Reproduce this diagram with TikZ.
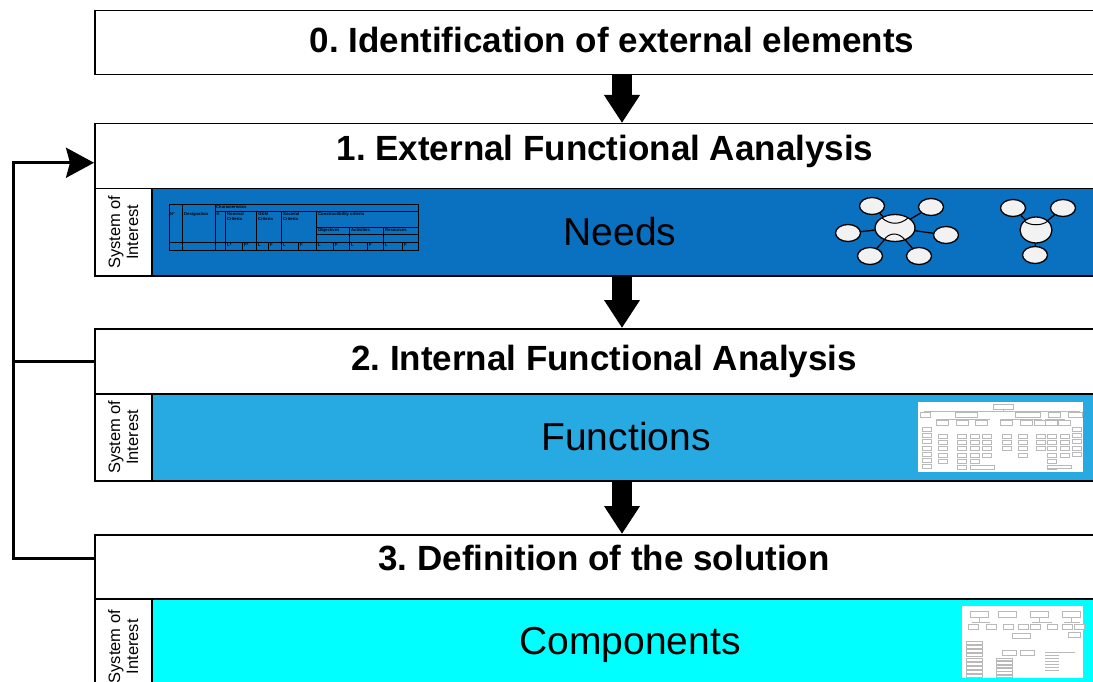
\documentclass[tikz,border=0pt]{standalone}
\usepackage{fontspec}
\setmainfont{Liberation Sans}
\frenchspacing
\usetikzlibrary{arrows.meta,shapes.geometric,calc}
\definecolor{needsblue}{HTML}{0A70C0}
\definecolor{funcblue}{HTML}{27A9E1}
\definecolor{compcyan}{HTML}{00FFFF}
\definecolor{bubfill}{HTML}{F2F2F2}
\begin{document}
\begin{tikzpicture}[x=1pt,y=-1pt,
 boxframe/.style={draw=black,line width=1.5pt,rectangle,inner sep=0pt,anchor=north west},
 title/.style={font=\fontsize{35}{42}\selectfont\bfseries,anchor=base,inner sep=0pt},
 content/.style={font=\fontsize{39}{46}\selectfont,anchor=base,inner sep=0pt},
 soitext/.style={font=\fontsize{16.5}{18}\selectfont,rotate=90,align=center,inner sep=0pt},
 bigarrow/.style={line width=20pt,-{Triangle[length=28pt,width=34pt]}},
 fb/.style={line width=3pt},
 bub/.style={ellipse,draw=black,line width=1.3pt,fill=bubfill,inner sep=0pt,minimum width=25pt,minimum height=17pt},
 hub/.style={bub,minimum width=40pt,minimum height=27pt},
 hubb/.style={bub,minimum width=32pt,minimum height=26pt},
 link/.style={line width=1.3pt},
 tbl/.style={line width=0.7pt},
 tt/.style={font=\fontsize{4.2}{4.8}\selectfont\bfseries,inner sep=0pt,anchor=north west,align=left},
 thumb/.style={draw=gray!55,line width=0.35pt,fill=white},
 thumbline/.style={draw=gray!55,line width=0.35pt},
 thumbbg/.style={fill=white,inner sep=0pt,anchor=north west},
 ]
\useasboundingbox (0,0) rectangle (1093,682);
\clip (0,0) rectangle (1093,682);

% ---------- boxes ----------
\node[boxframe,minimum width=1022pt,minimum height=64pt] (h0) at (94,10) {};

\node[boxframe,minimum width=1022pt,minimum height=65pt] (h1) at (94,123) {};
\node[boxframe,minimum width=57pt,minimum height=87pt] (s1) at (94,188) {};
\node[boxframe,fill=needsblue,minimum width=965pt,minimum height=87pt] (r1) at (151,188) {};

\node[boxframe,minimum width=1022pt,minimum height=65pt] (h2) at (94,328) {};
\node[boxframe,minimum width=57pt,minimum height=87pt] (s2) at (94,393) {};
\node[boxframe,fill=funcblue,minimum width=965pt,minimum height=87pt] (r2) at (151,393) {};

\node[boxframe,minimum width=1022pt,minimum height=64pt] (h3) at (94,534) {};
\node[boxframe,minimum width=57pt,minimum height=92pt] (s3) at (94,598) {};
\node[boxframe,fill=compcyan,minimum width=965pt,minimum height=92pt] (r3) at (151,598) {};

% ---------- titles ----------
\node[title] (t0) at (612,53) {0. Identification of external elements};
\node[title] (t1) at (605,161) {1. External Functional Aanalysis};
\node[title] (t2) at (604,370) {2. Internal Functional Analysis};
\node[title] (t3) at (604,570) {3. Definition of the solution};

\node[content] (c1t) at (620,245) {Needs};
\node[content] (c2t) at (626,450) {Functions};
\node[content] (c3t) at (630,654) {Components};

\node[soitext] (l1) at (s1.center) {System of\\Interest};
\node[soitext] (l2) at (s2.center) {System of\\Interest};
\node[soitext] (l3) at ([yshift=-2pt]s3.center) {System of\\Interest};

% ---------- big arrows ----------
\coordinate (ax) at (622,0);
\draw[bigarrow] (h0.south -| ax) -- (h1.north -| ax);
\draw[bigarrow] (r1.south -| ax) -- (h2.north -| ax);
\draw[bigarrow] (r2.south -| ax) -- (h3.north -| ax);

% ---------- feedback loop ----------
\coordinate (fbx) at (13,0);
\draw[fb,-{Stealth[length=28pt,width=30pt,inset=4pt]}] ([yshift=8pt]h3.west) -- ([yshift=8pt]h3.west -| fbx) |- ([yshift=-6.5pt]h1.west);
\draw[fb] (h2.west) -- (h2.west -| fbx);

% ---------- table in Needs ----------
\draw[tbl] (169,204) rectangle (418,250);
\draw[tbl] (215,211) -- (418,211);
\draw[tbl] (316,227) -- (418,227);
\draw[tbl] (316,234) -- (418,234);
\draw[tbl] (169,242) -- (418,242);
\foreach \x in {182,215} \draw[tbl] (\x,204) -- (\x,250);
\foreach \x in {225,256,281,316} \draw[tbl] (\x,211) -- (\x,250);
\foreach \x in {349,383} \draw[tbl] (\x,227) -- (\x,250);
\foreach \x in {242,268,298,333,367,402} \draw[tbl] (\x,242) -- (\x,250);
\node[tt] (tc) at (216,205) {Characteristics};
\node[tt] (tn) at (170,212.5) {N°};
\node[tt] (td) at (184,212.5) {Designation};
\node[tt] (tk) at (216.5,212.5) {K};
\node[tt] (tnc) at (227,212.5) {Nominal\\Criteria};
\node[tt] (tom) at (258,212.5) {O\&M\\Criteria};
\node[tt] (tso) at (283,212.5) {Societal\\Criteria};
\node[tt] (tcc) at (318,212.5) {Constructibility criteria};
\node[tt] (tob) at (318,228.5) {Objectives};
\node[tt] (tac) at (351,228.5) {Activities};
\node[tt] (tre) at (385,228.5) {Resources};
\node[tt] (u1) at (227,243.5) {L*};
\node[tt] (u2) at (244,243.5) {F*};
\foreach \x/\t [count=\k] in {258/L,270/F,283/L,300/F,318/L,335/F,351/L,369/F,385/L,404/F}
  \node[tt] (v\k) at (\x,243.5) {\t};

% ---------- bubble graphs ----------
\node[hub] (g1c) at (895,228) {};
\node[bub] (g1a) at (872,206) {};
\node[bub] (g1b) at (931,207) {};
\node[bub] (g1d) at (848,233) {};
\node[bub] (g1e) at (946,235) {};
\node[bub] (g1f) at (870,256) {};
\node[bub] (g1g) at (919,256) {};
\foreach \n in {g1a,g1b,g1d,g1e,g1f,g1g} \draw[link] (g1c) -- (\n);
\draw[line width=1pt] (882,218) .. controls (890,225) and (900,225) .. (908,218);
\draw[line width=1pt] (884,240) .. controls (889,232) and (899,232) .. (905,240);

\node[hubb] (g2c) at (1036,230) {};
\node[bub] (g2a) at (1013,208) {};
\node[bub] (g2b) at (1063,208) {};
\node[bub] (g2d) at (1035,255) {};
\foreach \n in {g2a,g2b,g2d} \draw[link] (g2c) -- (\n);
\draw[line width=1pt] (1024,221) .. controls (1030,226) and (1042,226) .. (1048,221);

% ---------- functions thumbnail ----------
\node[thumbbg,minimum width=165pt,minimum height=70pt] (fth) at (918,402) {};
\draw[thumb] (993,404) rectangle (1013,409);
\draw[thumbline] (1003,409) -- (1003,411) (924,411) -- (1080,411);
\foreach \x/\w in {920/10,955/22,1015/25,1048/12,1068/14}
  \draw[thumb] (\x,412) rectangle ++(\w,5);
\draw[thumbline] (936,419) -- (990,419) (1000,419) -- (1042,419) (1045,419) -- (1065,419);
\foreach \x in {936,956,975,1000,1020,1034,1045,1058}
  \draw[thumb] (\x,420) rectangle ++(12,5);
\foreach \x/\n/\s in {922/7/421,938/5/428,957/6/428,970/6/428,982/4/428,1002/3/428,1018/4/428,1036/3/428,1047/6/428,1060/4/428,1072/5/421}
  \foreach \i in {1,...,\n} \draw[thumb] (\x,\s+\i*6.2) rectangle ++(9,4);
\draw[thumb] (970,465) rectangle ++(24,4);
\draw[thumb] (1047,465) rectangle ++(24,3.5);

% ---------- components thumbnail ----------
\node[thumbbg,minimum width=121pt,minimum height=72pt] (cth) at (962,606) {};
\foreach \x in {970,998,1030,1062}
  \draw[thumb] (\x,611) rectangle ++(18,6);
\draw[thumbline] (979,617) -- (979,622) (972,622) -- (990,622)
  (1039,617) -- (1039,622) (1032,622) -- (1052,622)
  (1071,617) -- (1071,622) (1064,622) -- (1080,622);
\foreach \x in {968,986,1003,1018,1030,1047,1062,1074}
  \draw[thumb] (\x,624) rectangle ++(10,5);
\draw[thumb] (1012,633) rectangle ++(18,5);
\draw[thumb] (1068,632) rectangle ++(12,5);
\draw[thumb] (1002,650) rectangle ++(14,5);
\draw[thumb] (1020,650) rectangle ++(14,5);
\foreach \i in {0,...,8} \draw[thumb] (966,641+\i*4.2) rectangle ++(16,3);
\foreach \i in {0,...,5} \draw[thumb] (996,658+\i*3.4) rectangle ++(16,2.5);
\foreach \i in {0,...,6} \draw[thumbline] (1045,652+\i*3) -- ++(14,0);
\draw[thumbline] (1045,652) -- (1075,652);
\end{tikzpicture}
\end{document}
